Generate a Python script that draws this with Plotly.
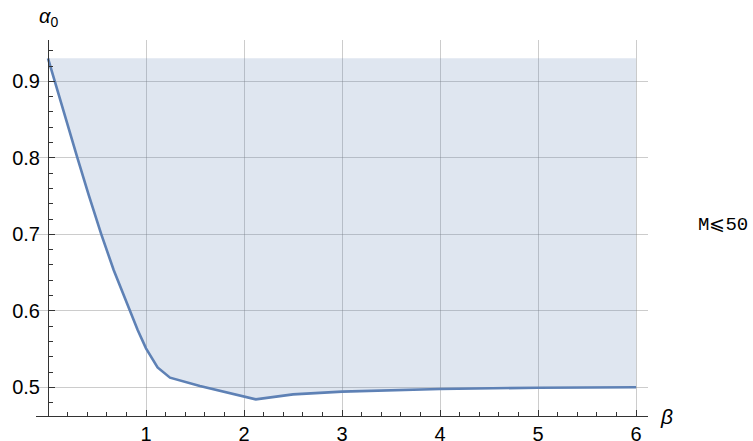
import plotly.graph_objects as go

# data
beta = [0.0, 0.068, 0.18, 0.30, 0.415, 0.544, 0.67, 0.833, 0.915, 1.0, 1.118, 1.245,
        1.55, 2.12, 2.5, 3.0, 4.0, 5.0, 6.0]
alpha0 = [0.93, 0.90, 0.8516, 0.80, 0.7514, 0.70, 0.6533, 0.60, 0.575, 0.551, 0.526, 0.5126,
          0.5017, 0.4843, 0.4908, 0.4943, 0.4978, 0.4995, 0.5]
fill_top = 0.93
x_ticks = [1, 2, 3, 4, 5, 6]
y_ticks = [0.5, 0.6, 0.7, 0.8, 0.9]
y_tick_text = ["0.5", "0.6", "0.7", "0.8", "0.9"]
legend_text = "M⩽50"

line_color = "#5e81b5"
fill_color = "rgba(94,129,181,0.2)"
grid_color = "rgba(128,128,128,0.4)"
axis_color = "#333333"
tick_font = dict(family="Liberation Sans, Arial, sans-serif", size=20, color="black")

fig = go.Figure()
fig.add_trace(go.Scatter(
    x=[beta[0], beta[-1]], y=[fill_top, fill_top], mode="lines",
    line=dict(width=0, color=fill_color), hoverinfo="skip", showlegend=False))
fig.add_trace(go.Scatter(
    x=beta, y=alpha0, mode="lines", fill="tonexty", fillcolor=fill_color,
    line=dict(color=line_color, width=2.6), showlegend=False))

fig.update_layout(
    width=753, height=441,
    margin=dict(l=36, r=105, t=40, b=25, autoexpand=False),
    paper_bgcolor="white", plot_bgcolor="white",
    xaxis=dict(
        range=[-0.1224, 6.122], tickmode="array", tickvals=x_ticks,
        ticks="inside", ticklen=6, tickwidth=1, tickcolor=axis_color,
        showline=True, linecolor=axis_color, linewidth=1,
        showgrid=True, gridcolor=grid_color, gridwidth=1, zeroline=False,
        tickfont=tick_font, automargin=False,
        minor=dict(tickmode="linear", tick0=0, dtick=0.2, ticks="inside",
                   ticklen=4, tickwidth=1, tickcolor=axis_color, showgrid=False),
    ),
    yaxis=dict(
        range=[0.4625, 0.954], tickmode="array", tickvals=y_ticks, ticktext=y_tick_text,
        anchor="free", position=12 / 612,
        ticks="inside", ticklen=6, tickwidth=1, tickcolor=axis_color,
        showline=True, linecolor=axis_color, linewidth=1,
        showgrid=True, gridcolor=grid_color, gridwidth=1, zeroline=False,
        tickfont=tick_font, ticklabelstandoff=4, automargin=False,
        minor=dict(tickmode="linear", tick0=0.5, dtick=0.02, ticks="inside",
                   ticklen=4, tickwidth=1, tickcolor=axis_color, showgrid=False),
    ),
    annotations=[
        dict(text="<i>α</i><sub>0</sub>", xref="x", yref="paper", x=0, y=1,
             xanchor="center", yanchor="bottom", yshift=8, showarrow=False,
             font=dict(family="Liberation Sans, Arial, sans-serif", size=20, color="black")),
        dict(text="<i>β</i>", xref="paper", yref="paper", x=1, y=0,
             xanchor="left", yanchor="middle", xshift=10, showarrow=False,
             font=dict(family="Liberation Sans, Arial, sans-serif", size=21, color="black")),
        dict(text=legend_text, xref="paper", yref="paper", x=1.078, y=0.508,
             xanchor="left", yanchor="middle", showarrow=False,
             font=dict(family="Liberation Mono, Courier New, monospace", size=19, color="black")),
    ],
)

fig.write_html("out.html", config={"displayModeBar": False},
               post_script="document.body.style.margin='0';document.body.style.overflow='hidden';")
